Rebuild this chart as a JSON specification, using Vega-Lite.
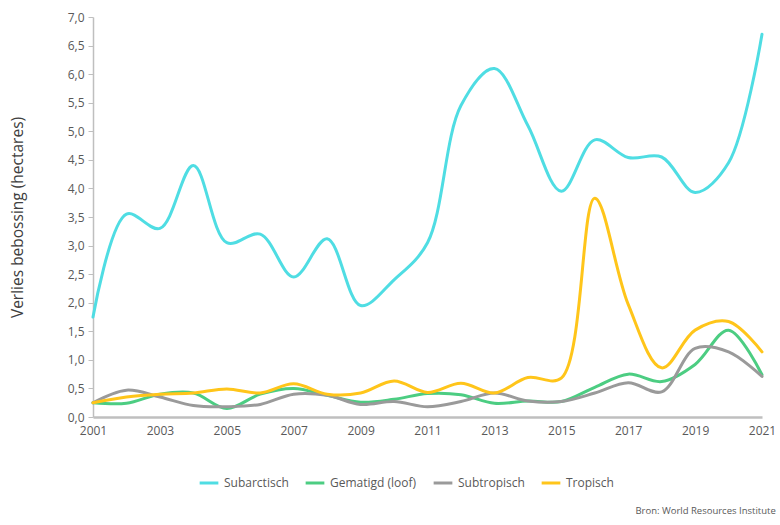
{
  "$schema": "https://vega.github.io/schema/vega-lite/v6.json",
  "autosize": {"type": "none"},
  "width": 669,
  "height": 400,
  "padding": {"left": 93, "top": 17, "right": 18, "bottom": 108},
  "background": "white",
  "config": {
    "font": "Open Sans, sans-serif",
    "view": {"stroke": null}
  },
  "title": {
    "text": "Bron: World Resources Institute",
    "orient": "bottom",
    "anchor": "end",
    "fontSize": 9.5,
    "fontWeight": "normal",
    "color": "#595959",
    "offset": 17,
    "dx": 0
  },
  "data": {
    "values": [
      {"jaar": 2001, "regio": "Subarctisch", "verlies": 1.75},
      {"jaar": 2002, "regio": "Subarctisch", "verlies": 3.55},
      {"jaar": 2003, "regio": "Subarctisch", "verlies": 3.3},
      {"jaar": 2004, "regio": "Subarctisch", "verlies": 4.4},
      {"jaar": 2005, "regio": "Subarctisch", "verlies": 3.05},
      {"jaar": 2006, "regio": "Subarctisch", "verlies": 3.2},
      {"jaar": 2007, "regio": "Subarctisch", "verlies": 2.45},
      {"jaar": 2008, "regio": "Subarctisch", "verlies": 3.12},
      {"jaar": 2009, "regio": "Subarctisch", "verlies": 1.95},
      {"jaar": 2010, "regio": "Subarctisch", "verlies": 2.4},
      {"jaar": 2011, "regio": "Subarctisch", "verlies": 3.05},
      {"jaar": 2012, "regio": "Subarctisch", "verlies": 5.45},
      {"jaar": 2013, "regio": "Subarctisch", "verlies": 6.1},
      {"jaar": 2014, "regio": "Subarctisch", "verlies": 5.1},
      {"jaar": 2015, "regio": "Subarctisch", "verlies": 3.95},
      {"jaar": 2016, "regio": "Subarctisch", "verlies": 4.85},
      {"jaar": 2017, "regio": "Subarctisch", "verlies": 4.54},
      {"jaar": 2018, "regio": "Subarctisch", "verlies": 4.55},
      {"jaar": 2019, "regio": "Subarctisch", "verlies": 3.93},
      {"jaar": 2020, "regio": "Subarctisch", "verlies": 4.45},
      {"jaar": 2021, "regio": "Subarctisch", "verlies": 6.7},

      {"jaar": 2001, "regio": "Gematigd (loof)", "verlies": 0.25},
      {"jaar": 2002, "regio": "Gematigd (loof)", "verlies": 0.24},
      {"jaar": 2003, "regio": "Gematigd (loof)", "verlies": 0.4},
      {"jaar": 2004, "regio": "Gematigd (loof)", "verlies": 0.42},
      {"jaar": 2005, "regio": "Gematigd (loof)", "verlies": 0.15},
      {"jaar": 2006, "regio": "Gematigd (loof)", "verlies": 0.4},
      {"jaar": 2007, "regio": "Gematigd (loof)", "verlies": 0.5},
      {"jaar": 2008, "regio": "Gematigd (loof)", "verlies": 0.38},
      {"jaar": 2009, "regio": "Gematigd (loof)", "verlies": 0.26},
      {"jaar": 2010, "regio": "Gematigd (loof)", "verlies": 0.31},
      {"jaar": 2011, "regio": "Gematigd (loof)", "verlies": 0.41},
      {"jaar": 2012, "regio": "Gematigd (loof)", "verlies": 0.39},
      {"jaar": 2013, "regio": "Gematigd (loof)", "verlies": 0.24},
      {"jaar": 2014, "regio": "Gematigd (loof)", "verlies": 0.28},
      {"jaar": 2015, "regio": "Gematigd (loof)", "verlies": 0.27},
      {"jaar": 2016, "regio": "Gematigd (loof)", "verlies": 0.52},
      {"jaar": 2017, "regio": "Gematigd (loof)", "verlies": 0.75},
      {"jaar": 2018, "regio": "Gematigd (loof)", "verlies": 0.62},
      {"jaar": 2019, "regio": "Gematigd (loof)", "verlies": 0.92},
      {"jaar": 2020, "regio": "Gematigd (loof)", "verlies": 1.52},
      {"jaar": 2021, "regio": "Gematigd (loof)", "verlies": 0.74},

      {"jaar": 2001, "regio": "Subtropisch", "verlies": 0.25},
      {"jaar": 2002, "regio": "Subtropisch", "verlies": 0.47},
      {"jaar": 2003, "regio": "Subtropisch", "verlies": 0.35},
      {"jaar": 2004, "regio": "Subtropisch", "verlies": 0.2},
      {"jaar": 2005, "regio": "Subtropisch", "verlies": 0.18},
      {"jaar": 2006, "regio": "Subtropisch", "verlies": 0.22},
      {"jaar": 2007, "regio": "Subtropisch", "verlies": 0.4},
      {"jaar": 2008, "regio": "Subtropisch", "verlies": 0.38},
      {"jaar": 2009, "regio": "Subtropisch", "verlies": 0.22},
      {"jaar": 2010, "regio": "Subtropisch", "verlies": 0.27},
      {"jaar": 2011, "regio": "Subtropisch", "verlies": 0.18},
      {"jaar": 2012, "regio": "Subtropisch", "verlies": 0.27},
      {"jaar": 2013, "regio": "Subtropisch", "verlies": 0.42},
      {"jaar": 2014, "regio": "Subtropisch", "verlies": 0.28},
      {"jaar": 2015, "regio": "Subtropisch", "verlies": 0.27},
      {"jaar": 2016, "regio": "Subtropisch", "verlies": 0.42},
      {"jaar": 2017, "regio": "Subtropisch", "verlies": 0.6},
      {"jaar": 2018, "regio": "Subtropisch", "verlies": 0.44},
      {"jaar": 2019, "regio": "Subtropisch", "verlies": 1.2},
      {"jaar": 2020, "regio": "Subtropisch", "verlies": 1.14},
      {"jaar": 2021, "regio": "Subtropisch", "verlies": 0.71},

      {"jaar": 2001, "regio": "Tropisch", "verlies": 0.25},
      {"jaar": 2002, "regio": "Tropisch", "verlies": 0.35},
      {"jaar": 2003, "regio": "Tropisch", "verlies": 0.4},
      {"jaar": 2004, "regio": "Tropisch", "verlies": 0.42},
      {"jaar": 2005, "regio": "Tropisch", "verlies": 0.49},
      {"jaar": 2006, "regio": "Tropisch", "verlies": 0.42},
      {"jaar": 2007, "regio": "Tropisch", "verlies": 0.58},
      {"jaar": 2008, "regio": "Tropisch", "verlies": 0.4},
      {"jaar": 2009, "regio": "Tropisch", "verlies": 0.42},
      {"jaar": 2010, "regio": "Tropisch", "verlies": 0.63},
      {"jaar": 2011, "regio": "Tropisch", "verlies": 0.43},
      {"jaar": 2012, "regio": "Tropisch", "verlies": 0.59},
      {"jaar": 2013, "regio": "Tropisch", "verlies": 0.42},
      {"jaar": 2014, "regio": "Tropisch", "verlies": 0.69},
      {"jaar": 2015, "regio": "Tropisch", "verlies": 0.68},
      {"jaar": 2016, "regio": "Tropisch", "verlies": 3.83},
      {"jaar": 2017, "regio": "Tropisch", "verlies": 1.97},
      {"jaar": 2018, "regio": "Tropisch", "verlies": 0.86},
      {"jaar": 2019, "regio": "Tropisch", "verlies": 1.52},
      {"jaar": 2020, "regio": "Tropisch", "verlies": 1.67},
      {"jaar": 2021, "regio": "Tropisch", "verlies": 1.14}
    ]
  },
  "mark": {"type": "line", "interpolate": "catmull-rom", "strokeWidth": 3, "strokeCap": "round"},
  "encoding": {
    "x": {
      "field": "jaar",
      "type": "quantitative",
      "scale": {"domain": [2001, 2021], "nice": false, "zero": false},
      "axis": {
        "title": null,
        "values": [2001, 2003, 2005, 2007, 2009, 2011, 2013, 2015, 2017, 2019, 2021],
        "format": "d",
        "grid": false,
        "ticks": false,
        "domainColor": "#bfbfbf",
        "domainWidth": 2.5,
        "labelColor": "#595959",
        "labelFontSize": 12,
        "labelPadding": 8,
        "labelFlush": false
      }
    },
    "y": {
      "field": "verlies",
      "type": "quantitative",
      "scale": {"domain": [0, 7], "nice": false},
      "axis": {
        "title": "Verlies bebossing (hectares)",
        "titleFontSize": 15.5,
        "titleFontWeight": "normal",
        "titleColor": "#404040",
        "titlePadding": 42,
        "values": [0, 0.5, 1, 1.5, 2, 2.5, 3, 3.5, 4, 4.5, 5, 5.5, 6, 6.5, 7],
        "labelExpr": "replace(format(datum.value, '.1f'), '.', ',')",
        "grid": false,
        "domainColor": "#bfbfbf",
        "domainWidth": 1.5,
        "tickColor": "#bfbfbf",
        "tickSize": 5,
        "labelColor": "#595959",
        "labelFontSize": 12,
        "labelPadding": 4
      }
    },
    "color": {
      "field": "regio",
      "type": "nominal",
      "sort": ["Subarctisch", "Gematigd (loof)", "Subtropisch", "Tropisch"],
      "scale": {
        "domain": ["Subarctisch", "Gematigd (loof)", "Subtropisch", "Tropisch"],
        "range": ["#4fdde3", "#4ccd82", "#9a9a9a", "#ffc51a"]
      },
      "legend": {
        "title": null,
        "orient": "none",
        "direction": "horizontal",
        "legendX": 105,
        "legendY": 455,
        "symbolType": "stroke",
        "symbolSize": 350,
        "symbolStrokeWidth": 3,
        "labelFontSize": 12,
        "labelColor": "#595959",
        "columnPadding": 10
      }
    }
  }
}
